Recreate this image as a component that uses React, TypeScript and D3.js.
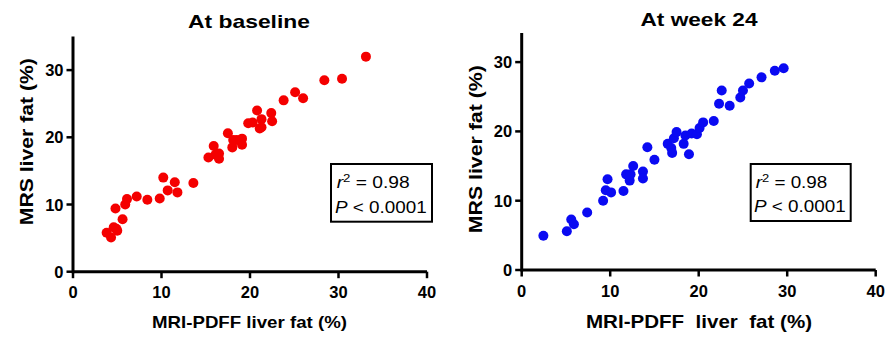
import { useEffect, useRef } from 'react'
import * as d3 from 'd3'

// baseline: MRI-PDFF (x) vs MRS (y), liver fat %
const baselineX = [33.1, 28.4, 30.4, 25.1, 26.0, 23.8,
  20.8, 19.8, 20.3, 21.3, 22.4, 22.5, 21.1, 21.3,
  17.5, 18.1, 18.0, 19.1, 19.1, 18.5, 15.9, 15.3, 16.1, 16.5, 16.5,
  10.2, 10.7, 11.5, 11.8, 13.6, 9.8, 8.4, 7.2, 6.1, 5.9, 4.8, 5.6, 4.9, 5.0, 3.8, 4.3, 4.6]
const baselineY = [32.0, 28.5, 28.7, 26.7, 25.8, 25.5,
  24.0, 22.1, 22.2, 22.7, 23.6, 22.4, 21.3, 21.5,
  20.6, 19.6, 18.5, 19.8, 18.9, 19.6, 18.7, 17.0, 17.4, 17.6, 16.8,
  14.0, 12.1, 13.3, 11.8, 13.2, 10.9, 10.7, 11.2, 10.8, 10.0, 9.4, 7.8, 6.4, 6.1, 5.8, 5.1, 6.6]

// week 24
const week24X = [2.45, 5.1, 5.6, 5.9, 7.4, 9.2, 9.7, 9.5, 10.1, 11.5, 11.8, 12.2, 12.3, 12.6,
  13.7, 13.7, 14.2, 15.0, 16.5, 16.9, 17.0, 17.2, 17.5, 18.3, 18.5, 18.9, 19.2, 19.8, 20.1,
  20.5, 21.7, 22.3, 22.6, 23.5, 24.7, 25.0, 25.7, 27.1, 28.6, 29.6]
const week24Y = [4.95, 5.6, 7.3, 6.6, 8.3, 10.0, 13.1, 11.5, 11.2, 11.4, 13.8, 12.9, 13.8, 15.0,
  14.2, 13.2, 17.7, 15.9, 18.2, 17.6, 16.9, 19.0, 19.9, 18.2, 19.4, 16.7, 19.7, 19.6, 20.5,
  21.3, 21.5, 24.0, 25.9, 23.7, 24.9, 25.9, 26.9, 27.8, 28.75, 29.1]

const xTicks = [0, 10, 20, 30, 40]
const yTicks = [0, 10, 20, 30]
const stats = { r2: '0.98', p: '0.0001' }

const panels = [
  {
    title: 'At baseline', xs: baselineX, ys: baselineY, color: '#f40000', yMax: 35,
    x0: 73, x1: 427, y0: 271.7, yUnit: 6.72,
    titleX: 249, titleY: 28.3, titleSize: 18.5, titleLen: 122,
    xLabel: 'MRI-PDFF liver fat (%)', xLabelX: 249.5, xLabelSize: 16.3, xLabelLen: 195,
    yLabelX: 33, yLabelY: 141.7, yLabelSize: 17.5, yLabelLen: 167,
    tickBase: 298, box: [331, 164, 101, 57.7], line1: [336.7, 188.3, 73], line2: [335, 212.7, 91.7],
  },
  {
    title: 'At week 24', xs: week24X, ys: week24Y, color: '#0a0af2', yMax: 34.2,
    x0: 521.7, x1: 875.7, y0: 270, yUnit: 6.93,
    titleX: 699, titleY: 26, titleSize: 17.7, titleLen: 117,
    xLabel: 'MRI-PDFF  liver  fat (%)', xLabelX: 699, xLabelSize: 18.4, xLabelLen: 226,
    yLabelX: 482, yLabelY: 149.2, yLabelSize: 18.5, yLabelLen: 168,
    tickBase: 296.7, box: [750.7, 164, 100, 57], line1: [755.7, 188.3, 71.6], line2: [754, 211.7, 91.7],
  },
]

export default function App() {
  const svgRef = useRef<SVGSVGElement>(null)

  useEffect(() => {
    if (!svgRef.current) return
    const svg = d3.select(svgRef.current)
    svg.selectAll('*').remove()
    const font = 'Liberation Sans, Arial, sans-serif'

    panels.forEach((p) => {
      const x = d3.scaleLinear().domain([0, 40]).range([p.x0, p.x1])
      const y = d3.scaleLinear().domain([0, p.yMax]).range([p.y0, p.y0 - p.yMax * p.yUnit])
      const g = svg.append('g')

      // axes
      g.append('line').attr('x1', x(0)).attr('x2', x(40)).attr('y1', y(0)).attr('y2', y(0))
        .attr('stroke', '#000').attr('stroke-width', 3)
      g.append('line').attr('x1', x(0)).attr('x2', x(0)).attr('y1', y(0) + 1.5).attr('y2', y(p.yMax))
        .attr('stroke', '#000').attr('stroke-width', 3)

      xTicks.forEach((t) => {
        g.append('line').attr('x1', x(t)).attr('x2', x(t)).attr('y1', y(0)).attr('y2', y(0) + 6.5)
          .attr('stroke', '#000').attr('stroke-width', 2.5)
        g.append('text').attr('x', x(t)).attr('y', p.tickBase).attr('text-anchor', 'middle')
          .style('font-family', font).style('font-weight', 'bold').style('font-size', '16.5px')
          .text(t)
      })
      yTicks.forEach((t) => {
        g.append('line').attr('x1', x(0) - 6.5).attr('x2', x(0)).attr('y1', y(t)).attr('y2', y(t))
          .attr('stroke', '#000').attr('stroke-width', 2.5)
        g.append('text').attr('x', x(0) - 9.5).attr('y', y(t) + 6).attr('text-anchor', 'end')
          .style('font-family', font).style('font-weight', 'bold').style('font-size', '16.5px')
          .text(t)
      })

      // titles and labels
      g.append('text').attr('x', p.titleX).attr('y', p.titleY).attr('text-anchor', 'middle')
        .attr('textLength', p.titleLen).attr('lengthAdjust', 'spacingAndGlyphs')
        .style('font-family', font).style('font-weight', 'bold').style('font-size', `${p.titleSize}px`)
        .text(p.title)
      g.append('text').attr('x', p.xLabelX).attr('y', 328.3).attr('text-anchor', 'middle')
        .attr('textLength', p.xLabelLen).attr('lengthAdjust', 'spacingAndGlyphs')
        .style('white-space', 'pre')
        .style('font-family', font).style('font-weight', 'bold').style('font-size', `${p.xLabelSize}px`)
        .text(p.xLabel)
      g.append('text')
        .attr('transform', `translate(${p.yLabelX},${p.yLabelY}) rotate(-90)`)
        .attr('text-anchor', 'middle')
        .attr('textLength', p.yLabelLen).attr('lengthAdjust', 'spacingAndGlyphs')
        .style('font-family', font).style('font-weight', 'bold').style('font-size', `${p.yLabelSize}px`)
        .text('MRS liver fat (%)')

      // points
      g.selectAll('circle.pt')
        .data(p.xs.map((v, i) => [v, p.ys[i]]))
        .join('circle')
        .attr('class', 'pt')
        .attr('cx', (d) => x(d[0]))
        .attr('cy', (d) => y(d[1]))
        .attr('r', 5)
        .attr('fill', p.color)

      // stats box
      const [bx, by, bw, bh] = p.box
      g.append('rect').attr('x', bx).attr('y', by).attr('width', bw).attr('height', bh)
        .attr('fill', '#fff').attr('stroke', '#000').attr('stroke-width', 2)
      const t1 = g.append('text').attr('x', p.line1[0]).attr('y', p.line1[1])
        .attr('textLength', p.line1[2]).attr('lengthAdjust', 'spacingAndGlyphs')
        .style('font-family', font).style('font-size', '16px')
      t1.append('tspan').style('font-style', 'italic').text('r')
      t1.append('tspan').attr('dy', -6).style('font-size', '11px').text('2')
      t1.append('tspan').attr('dy', 6).text(` = ${stats.r2}`)
      const t2 = g.append('text').attr('x', p.line2[0]).attr('y', p.line2[1])
        .attr('textLength', p.line2[2]).attr('lengthAdjust', 'spacingAndGlyphs')
        .style('font-family', font).style('font-size', '16px')
      t2.append('tspan').style('font-style', 'italic').text('P')
      t2.append('tspan').text(` < ${stats.p}`)
    })
  }, [])

  return (
    <svg
      ref={svgRef}
      width={889}
      height={341}
      style={{ position: 'absolute', left: 0, top: 0, background: '#fff' }}
    />
  )
}
